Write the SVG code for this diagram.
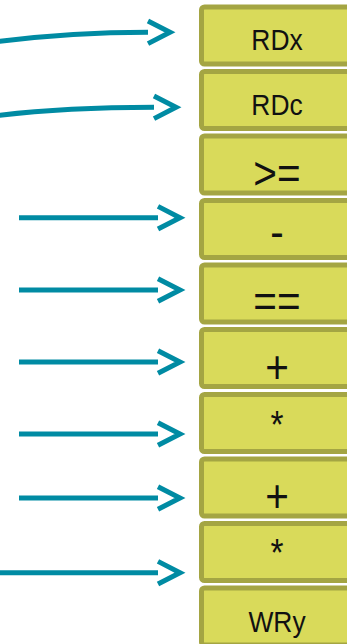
<svg xmlns="http://www.w3.org/2000/svg" width="347" height="644" viewBox="0 0 347 644">
  <style>
    .box { fill: #d9da5a; stroke: #a4a543; stroke-width: 5; }
    .lbl { font-family: "Liberation Sans", Arial, sans-serif; font-size: 30px; fill: #111; text-anchor: middle; }
    .op { font-family: "Liberation Sans", Arial, sans-serif; font-size: 46px; fill: #111; text-anchor: middle; }
    .star { font-size: 38px; }
    .wire { fill: none; stroke: #008ba3; stroke-width: 5; marker-end: url(#chev); }
  </style>
  <defs>
    <!-- open chevron head, drawn ahead of the line end -->
    <marker id="chev" markerUnits="userSpaceOnUse" markerWidth="40" markerHeight="40" viewBox="-5 -20 40 40" refX="0" refY="0" orient="auto" overflow="visible">
      <path d="M0,-11.3 L22,0 L0,11.3" fill="none" stroke="#008ba3" stroke-width="5" stroke-linejoin="miter"/>
    </marker>
  </defs>

  <g id="connectors">
    <path class="wire" d="M-10,42.5 C40,36 95,32.4 148,32.3"/>
    <path class="wire" d="M-10,116.5 C40,110 100,107.4 154,107.3"/>
    <path class="wire" d="M19,217.7 H158"/>
    <path class="wire" d="M19,290 H158"/>
    <path class="wire" d="M19,362 H158"/>
    <path class="wire" d="M19,434 H158"/>
    <path class="wire" d="M19,498 H158"/>
    <path class="wire" d="M0,572.7 H158"/>
  </g>

  <g id="n-rdx">
    <rect class="box" x="201.5" y="7" width="170" height="57" rx="3"/>
    <text class="lbl" transform="translate(277,50) scale(0.88,1)">RDx</text>
  </g>
  <g id="n-rdc">
    <rect class="box" x="201.5" y="71.5" width="170" height="57" rx="3"/>
    <text class="lbl" transform="translate(277,115) scale(0.88,1)">RDc</text>
  </g>
  <g id="n-ge">
    <rect class="box" x="201.5" y="136" width="170" height="57" rx="3"/>
    <text class="op" transform="translate(277,188.7) scale(0.88,1)">&gt;=</text>
  </g>
  <g id="n-sub">
    <rect class="box" x="201.5" y="200.5" width="170" height="57" rx="3"/>
    <text class="op" transform="translate(277,248) scale(0.88,1)">-</text>
  </g>
  <g id="n-eq">
    <rect class="box" x="201.5" y="265" width="170" height="57" rx="3"/>
    <text class="op" transform="translate(277,317.4) scale(0.88,1)">==</text>
  </g>
  <g id="n-add1">
    <rect class="box" x="201.5" y="329.5" width="170" height="57" rx="3"/>
    <text class="op" transform="translate(277,383.4) scale(0.88,1)">+</text>
  </g>
  <g id="n-mul1">
    <rect class="box" x="201.5" y="394.5" width="170" height="57" rx="3"/>
    <text class="op star" transform="translate(277,437.5) scale(0.88,1)">*</text>
  </g>
  <g id="n-add2">
    <rect class="box" x="201.5" y="459" width="170" height="57" rx="3"/>
    <text class="op" transform="translate(277,512) scale(0.88,1)">+</text>
  </g>
  <g id="n-mul2">
    <rect class="box" x="201.5" y="523.5" width="170" height="57" rx="3"/>
    <text class="op star" transform="translate(277,565.5) scale(0.88,1)">*</text>
  </g>
  <g id="n-wry">
    <rect class="box" x="201.5" y="588" width="170" height="57" rx="3"/>
    <text class="lbl" transform="translate(277,632) scale(0.88,1)">WRy</text>
  </g>
</svg>
